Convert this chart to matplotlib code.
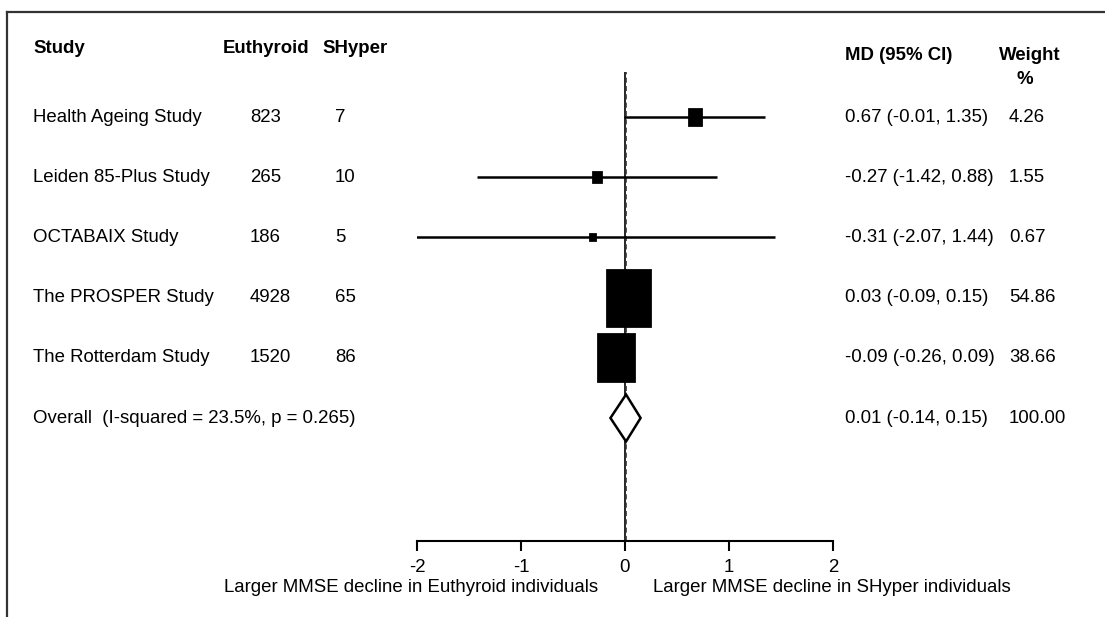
import numpy as np
import matplotlib
matplotlib.use("Agg")
import matplotlib.pyplot as plt
import matplotlib.transforms as mtransforms
from matplotlib.patches import Rectangle, Polygon
from matplotlib.lines import Line2D

plt.rcParams['font.family'] = ['Liberation Sans', 'DejaVu Sans']

# data
studies = ["Health Ageing Study", "Leiden 85-Plus Study", "OCTABAIX Study",
           "The PROSPER Study", "The Rotterdam Study"]
n_euthyroid = [823, 265, 186, 4928, 1520]
n_shyper = [7, 10, 5, 65, 86]
md = [0.67, -0.27, -0.31, 0.03, -0.09]
ci_lo = [-0.01, -1.42, -2.07, -0.09, -0.26]
ci_hi = [1.35, 0.88, 1.44, 0.15, 0.09]
weight = [4.26, 1.55, 0.67, 54.86, 38.66]
overall_label = "Overall  (I-squared = 23.5%, p = 0.265)"
overall = (0.01, -0.14, 0.15)
overall_weight = 100.00
xticks = [-2, -1, 0, 1, 2]
left_note = "Larger MMSE decline in Euthyroid individuals"
right_note = "Larger MMSE decline in SHyper individuals"

W, H = 1105, 617
fs = 13.4
fig = plt.figure(figsize=(W / 100, H / 100), dpi=100)
# forest panel: x -2..2 spans px 417..833, rows every ~60 px starting at 117
ax = fig.add_axes([417 / W, (H - 541) / H, 416 / W, (541 - 72) / H])
row_px = 60.2
ax.set_xlim(-2, 2)
ax.set_ylim((541 - 117) / row_px, (72 - 117) / row_px)

for s in ['left', 'right', 'top']:
    ax.spines[s].set_visible(False)
ax.spines['bottom'].set_linewidth(1.5)
ax.set_yticks([])
ax.set_xticks(xticks)
ax.set_xticklabels([str(t) for t in xticks], fontsize=fs)
ax.tick_params(axis='x', direction='out', length=7.5, width=1.5, pad=5.5)

# null line and overall dashed line
ax.axvline(0, color='black', lw=1.2, zorder=1)
ax.axvline(overall[0], color='#333333', lw=1.2, ls=(0, (3, 2)), zorder=1)

rows = np.arange(len(studies))
box_w, box_h = 43 / 104, 56 / row_px
wmax = max(weight)
for r, m, lo, hi, w in zip(rows, md, ci_lo, ci_hi, weight):
    ax.plot([lo, hi], [r, r], color='black', lw=1.8, solid_capstyle='butt', zorder=2)
    k = np.sqrt(w / wmax)
    ax.add_patch(Rectangle((m - box_w * k / 2, r - box_h * k / 2), box_w * k, box_h * k,
                           facecolor='black', edgecolor='black', lw=2.0, zorder=3))

r_ov = len(studies)
dh = 0.39
ax.add_patch(Polygon([[overall[1], r_ov], [overall[0], r_ov - dh],
                      [overall[2], r_ov], [overall[0], r_ov + dh]],
                     closed=True, facecolor='white', edgecolor='black', lw=1.8, zorder=3))

# text columns: x in figure pixels, y in row units
tr = mtransforms.blended_transform_factory(fig.transFigure, ax.transData)
def col(px, y, s, **kw):
    ax.text(px / W, y, s, transform=tr, fontsize=fs, va='center', clip_on=False, **kw)

col(33, -1.13, "Study", fontweight='bold')
col(223, -1.13, "Euthyroid", fontweight='bold')
col(322, -1.13, "SHyper", fontweight='bold')
col(845, -1.02, "MD (95% CI)", fontweight='bold')
col(1030, -1.02, "Weight", fontweight='bold', ha='center')
col(1025, -0.62, "%", fontweight='bold', ha='center')

for r, name, ne, ns, m, lo, hi, w in zip(rows, studies, n_euthyroid, n_shyper,
                                         md, ci_lo, ci_hi, weight):
    col(33, r, name)
    col(250, r, str(ne))
    col(335, r, str(ns))
    col(845, r, f"{m:.2f} ({lo:.2f}, {hi:.2f})")
    col(1009, r, f"{w:.2f}")

col(33, r_ov, overall_label)
col(845, r_ov, f"{overall[0]:.2f} ({overall[1]:.2f}, {overall[2]:.2f})")
col(1009, r_ov, f"{overall_weight:.2f}")

fig.text(598 / W, 1 - 588 / H, left_note, fontsize=fs, ha='right', va='center')
fig.text(653 / W, 1 - 588 / H, right_note, fontsize=fs, ha='left', va='center')

# frame lines (top and left) of the original panel
fig.add_artist(Line2D([7 / W, 1], [1 - 12 / H, 1 - 12 / H], transform=fig.transFigure,
                      color='#333333', lw=1.6))
fig.add_artist(Line2D([7 / W, 7 / W], [0, 1 - 12 / H], transform=fig.transFigure,
                      color='#333333', lw=1.6))

fig.savefig("out.png", dpi=100)
